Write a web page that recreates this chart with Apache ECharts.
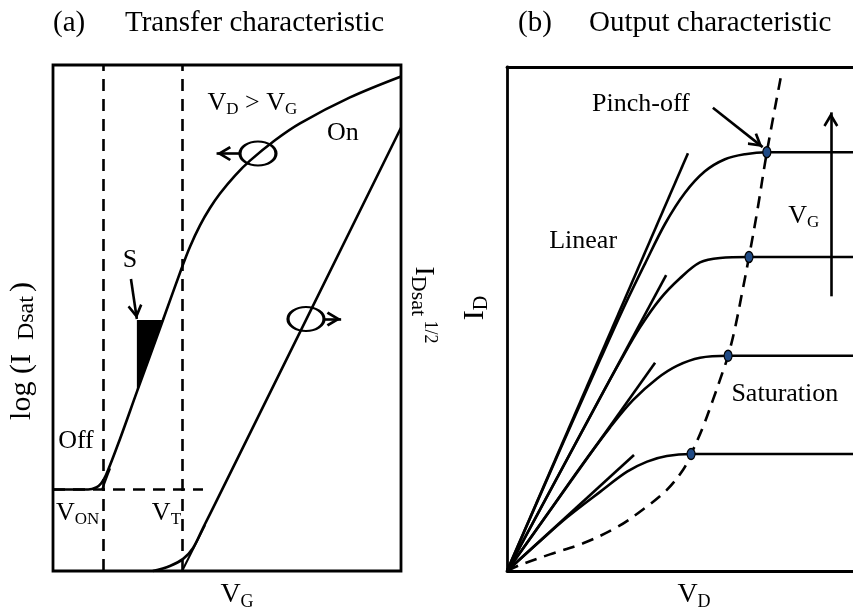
<!DOCTYPE html>
<html>
<head>
<meta charset="utf-8">
<script src="https://cdn.jsdelivr.net/npm/echarts@6/dist/echarts.min.js"></script>
<style>html,body{margin:0;padding:0;background:#fff}#c{width:853px;height:616px}</style>
</head>
<body>
<div id="c"></div>
<script>
// ---------------- Panel (a): transfer characteristic (arbitrary units, 0-100) ----------------
const logCurveVG  = [0, 10.1, 12.4, 13.8, 15.2, 19.3, 24.1, 31.6, 37.07, 39.37, 42.24, 45.11, 47.99, 52.3, 56.61, 63.79, 70.98, 85.34, 100];
const logCurveI   = [16.1, 16.1, 16.5, 17.3, 18.9, 26.2, 35.4, 49.6, 60.04, 64.1, 68.31, 71.73, 74.61, 78.15, 81.1, 85.14, 88.48, 93.6, 97.74];
const sqrtCurveVG = [28.7, 33.6, 37.4, 40.2, 43.1, 47.1, 100];
const sqrtCurveI  = [0, 1.0, 2.4, 4.5, 8.5, 14.0, 87.6];
const onTangentVG = [14.1, 16.4];
const onTangentI  = [16.1, 20.3];
const vtTangentVG = [37.1, 43.7];
const vtTangentI  = [0, 9.1];
const slopeTriVG  = [24.1, 31.6, 24.1];
const slopeTriI   = [49.6, 49.6, 35.4];
const ellipseVG   = [58.9, 72.7];
const ellipseI    = [82.5, 49.8];
const V_ON = 14.4, V_T = 37.1, I_OFF = 16.1, OFF_LINE_END = 43.1;

// ---------------- Panel (b): output characteristic (arbitrary units, 0-100) ----------------
const curve1VD = [0, 15.3, 26.9, 34.1, 39.9, 45.7, 51.4, 57.2, 63.0, 68.8, 75.1, 100];
const curve1ID = [0, 24.0, 41.9, 52.8, 61.0, 68.9, 75.0, 79.3, 81.7, 82.7, 83.1, 83.1];
const curve2VD = [0, 15.32, 26.88, 32.66, 38.44, 44.22, 50.0, 55.78, 61.56, 69.94, 100];
const curve2ID = [0, 19.59, 34.35, 41.54, 48.33, 53.94, 58.07, 61.22, 62.11, 62.3, 62.3];
const curve3VD = [0, 12.4, 21.1, 29.8, 36.4, 43.4, 49.1, 55.8, 63.9, 100];
const curve3ID = [0, 12.0, 20.5, 28.5, 33.9, 38.2, 40.7, 42.3, 42.7, 42.7];
const curve4VD = [0, 9.5, 17.3, 26.9, 34.7, 40.5, 46.2, 53.2, 100];
const curve4ID = [0, 5.9, 10.6, 15.7, 19.7, 21.7, 22.8, 23.2, 23.2];
const tangentEndVD = [52.3, 46.0, 42.8, 36.7];
const tangentEndID = [82.9, 58.7, 41.3, 23.0];
const pinchVD = [75.1, 69.94, 63.9, 53.2];
const pinchID = [83.1, 62.3, 42.7, 23.2];
const locusVD = [0, 3.8, 12.4, 22.0, 31.8, 39.3, 46.2, 50.9, 53.2, 56.6, 59.5, 62.1, 63.9, 65.9, 68.2, 69.94, 72.3, 75.1, 79.2];
const locusID = [0, 1.2, 3.3, 5.5, 8.7, 12.2, 16.1, 20.1, 23.2, 28.5, 33.9, 39.0, 42.7, 48.2, 56.1, 62.3, 71.3, 83.1, 98.2];

// ---------------- styling / building ----------------
const F = 'Liberation Serif';
const K = '#000';
const LW = 2.6;
const BW = 2.8;
const DASH = [12, 8];
const zip = (xs, ys) => xs.map((x, i) => [x, ys[i]]);
const ARROW = 'path://M0,-14L0,-14M0,0L7,12L5,13.5L0,5L-5,13.5L-7,12Z';

const tok = (size, extra) => Object.assign({ fontFamily: F, fontSize: size, fontWeight: 'normal', color: K }, extra || {});
const labelRich = {
  m: tok(26, { lineHeight: 30 }),
  s: tok(17, { verticalAlign: 'bottom', lineHeight: 12 })
};
const axisRich = {
  m: tok(28, { lineHeight: 32 }),
  s: tok(18, { verticalAlign: 'bottom', lineHeight: 12 })
};
const logRich = {
  m: tok(30, { lineHeight: 34 }),
  s: tok(24, { verticalAlign: 'bottom', lineHeight: 14, padding: [0, 4, 0, 14] })
};
const sqrtRich = {
  m: tok(28, { lineHeight: 32 }),
  s: tok(22, { verticalAlign: 'bottom', lineHeight: 12 }),
  u: tok(18, { verticalAlign: 'top', lineHeight: 20 })
};
const idRich = {
  m: tok(30, { lineHeight: 34 }),
  s: tok(20, { verticalAlign: 'bottom', lineHeight: 12 })
};

function curve(xs, ys, xi, yi, extra) {
  return Object.assign({
    type: 'line', data: zip(xs, ys), xAxisIndex: xi, yAxisIndex: yi,
    symbol: 'none', smooth: 0.35, silent: true, clip: false, z: 3,
    lineStyle: { color: K, width: LW }
  }, extra || {});
}
function straight(xs, ys, xi, yi, extra) {
  return curve(xs, ys, xi, yi, Object.assign({ smooth: false }, extra || {}));
}
function arrows(pairs, xi, yi) {
  return {
    type: 'line', data: [], xAxisIndex: xi, yAxisIndex: yi, silent: true, z: 6,
    markLine: {
      silent: true, animation: false,
      symbol: ['none', ARROW], symbolSize: [15, 29],
      label: { show: false },
      lineStyle: { color: K, width: LW, type: 'solid' },
      data: pairs.map(p => [{ coord: p[0] }, { coord: p[1] }])
    }
  };
}
function texts(items, xi, yi) {
  return {
    type: 'scatter', xAxisIndex: xi, yAxisIndex: yi, symbolSize: 1, silent: true, z: 10,
    itemStyle: { color: 'rgba(0,0,0,0)', opacity: 1 },
    label: { show: true, position: 'inside', color: K, fontFamily: F, fontSize: 26, rich: labelRich },
    data: items.map(t => ({ value: [t[0], t[1]], label: { formatter: t[2] } }))
  };
}
function hiddenAxis(extra) {
  return Object.assign({
    type: 'value', min: 0, max: 100,
    axisLine: { show: false }, axisTick: { show: false }, axisLabel: { show: false }, splitLine: { show: false }
  }, extra);
}
const shownLine = { show: true, onZero: false, lineStyle: { color: K, width: BW } };
const titleStyle = { fontFamily: F, fontSize: 29, fontWeight: 'normal', color: K };

const series = [];
// panel (a)
series.push(curve(logCurveVG, logCurveI, 0, 0));
series.push(curve(sqrtCurveVG, sqrtCurveI, 0, 1));
series.push(straight(onTangentVG, onTangentI, 0, 0, { lineStyle: { color: K, width: 2 } }));
series.push(straight(vtTangentVG, vtTangentI, 0, 1, { lineStyle: { color: K, width: 2 } }));
series.push({
  type: 'line', data: [], xAxisIndex: 0, yAxisIndex: 0, silent: true, z: 2,
  markLine: {
    silent: true, animation: false, symbol: 'none', label: { show: false },
    lineStyle: { color: K, width: LW, type: DASH },
    data: [
      { xAxis: V_ON }, { xAxis: V_T },
      [{ coord: [0, I_OFF] }, { coord: [OFF_LINE_END, I_OFF] }]
    ]
  }
});
series.push({
  type: 'custom', xAxisIndex: 0, yAxisIndex: 0, silent: true, z: 4,
  data: zip(slopeTriVG, slopeTriI),
  renderItem: function (params, api) {
    if (params.dataIndex !== 0) return null;
    const pts = zip(slopeTriVG, slopeTriI).map(p => api.coord(p));
    return { type: 'polygon', shape: { points: pts }, style: { fill: K } };
  }
});
series.push({
  type: 'scatter', xAxisIndex: 0, yAxisIndex: 0, silent: true, z: 5,
  symbol: 'circle', symbolSize: [36, 24],
  itemStyle: { color: 'rgba(0,0,0,0)', borderColor: K, borderWidth: LW, opacity: 1 },
  data: zip(ellipseVG, ellipseI)
});
series.push(arrows([
  [[53.7, 82.5], [47.0, 82.5]],
  [[77.7, 49.8], [82.8, 49.8]],
  [[22.4, 57.7], [24.1, 49.8]]
], 0, 0));
series.push(texts([
  [57.3, 92.5, '{m|V}{s|D}{m| > V}{s|G}'],
  [83.3, 86.6, '{m|On}'],
  [22.1, 61.4, '{m|S}'],
  [6.6, 25.6, '{m|Off}'],
  [7.1, 11.4, '{m|V}{s|ON}'],
  [32.6, 11.4, '{m|V}{s|T}']
], 0, 0));

// panel (b)
[[curve1VD, curve1ID], [curve2VD, curve2ID], [curve3VD, curve3ID], [curve4VD, curve4ID]].forEach(c => {
  series.push(curve(c[0], c[1], 1, 2));
});
tangentEndVD.forEach((x, i) => {
  series.push(straight([0, x], [0, tangentEndID[i]], 1, 2));
});
series.push(curve(locusVD, locusID, 1, 2, { lineStyle: { color: K, width: LW, type: DASH } }));
series.push({
  type: 'scatter', xAxisIndex: 1, yAxisIndex: 2, silent: true, z: 6,
  symbol: 'circle', symbolSize: [8, 11],
  itemStyle: { color: '#1f4a85', borderColor: K, borderWidth: 1.3, opacity: 1 },
  data: zip(pinchVD, pinchID)
});
series.push(arrows([
  [[93.6, 54.5], [93.6, 91.0]],
  [[59.5, 91.9], [73.9, 84.1]]
], 1, 2));
series.push(texts([
  [38.7, 92.7, '{m|Pinch-off}'],
  [22.0, 65.4, '{m|Linear}'],
  [85.8, 70.5, '{m|V}{s|G}'],
  [80.3, 35.0, '{m|Saturation}']
], 1, 2));

const option = {
  animation: false,
  backgroundColor: '#fff',
  title: [
    { text: '(a)', left: 53, top: 9, padding: 0, textStyle: titleStyle },
    { text: 'Transfer characteristic', left: 125, top: 9, padding: 0, textStyle: titleStyle },
    { text: '(b)', left: 518, top: 9, padding: 0, textStyle: titleStyle },
    { text: 'Output characteristic', left: 589, top: 9, padding: 0, textStyle: titleStyle }
  ],
  grid: [
    { left: 53, top: 65, width: 348, height: 508, show: true, borderColor: K, borderWidth: BW, backgroundColor: 'transparent' },
    { left: 507, top: 67, width: 346, height: 508 }
  ],
  xAxis: [
    hiddenAxis({ gridIndex: 0, name: '{m|V}{s|G}', nameLocation: 'middle', nameGap: 8,
      nameTextStyle: { rich: axisRich, padding: [0, 0, 0, 20] } }),
    hiddenAxis({ gridIndex: 1, axisLine: shownLine, name: '{m|V}{s|D}', nameLocation: 'middle', nameGap: 8,
      nameTextStyle: { rich: axisRich, padding: [0, 0, 0, 28] } }),
    hiddenAxis({ gridIndex: 1, position: 'top', axisLine: shownLine })
  ],
  yAxis: [
    hiddenAxis({ gridIndex: 0, position: 'left', name: '{m|log (I}{s|Dsat}{m|)}', nameLocation: 'middle',
      nameRotate: 90, nameGap: 14, nameTextStyle: { rich: logRich, padding: [0, 66, 0, 0] } }),
    hiddenAxis({ gridIndex: 0, position: 'right', name: '{m|I}{s|Dsat}{u| 1/2}', nameLocation: 'middle',
      nameRotate: -90, nameGap: 6, nameTextStyle: { rich: sqrtRich, padding: [0, 26, 0, 0] } }),
    hiddenAxis({ gridIndex: 1, position: 'left', axisLine: shownLine, name: '{m|I}{s|D}', nameLocation: 'middle',
      nameRotate: 90, nameGap: 15, nameTextStyle: { rich: idRich, padding: [0, 0, 0, 22] } })
  ],
  series: series
};

const chart = echarts.init(document.getElementById('c'), null, { renderer: 'canvas' });
chart.setOption(option);
</script>
</body>
</html>
